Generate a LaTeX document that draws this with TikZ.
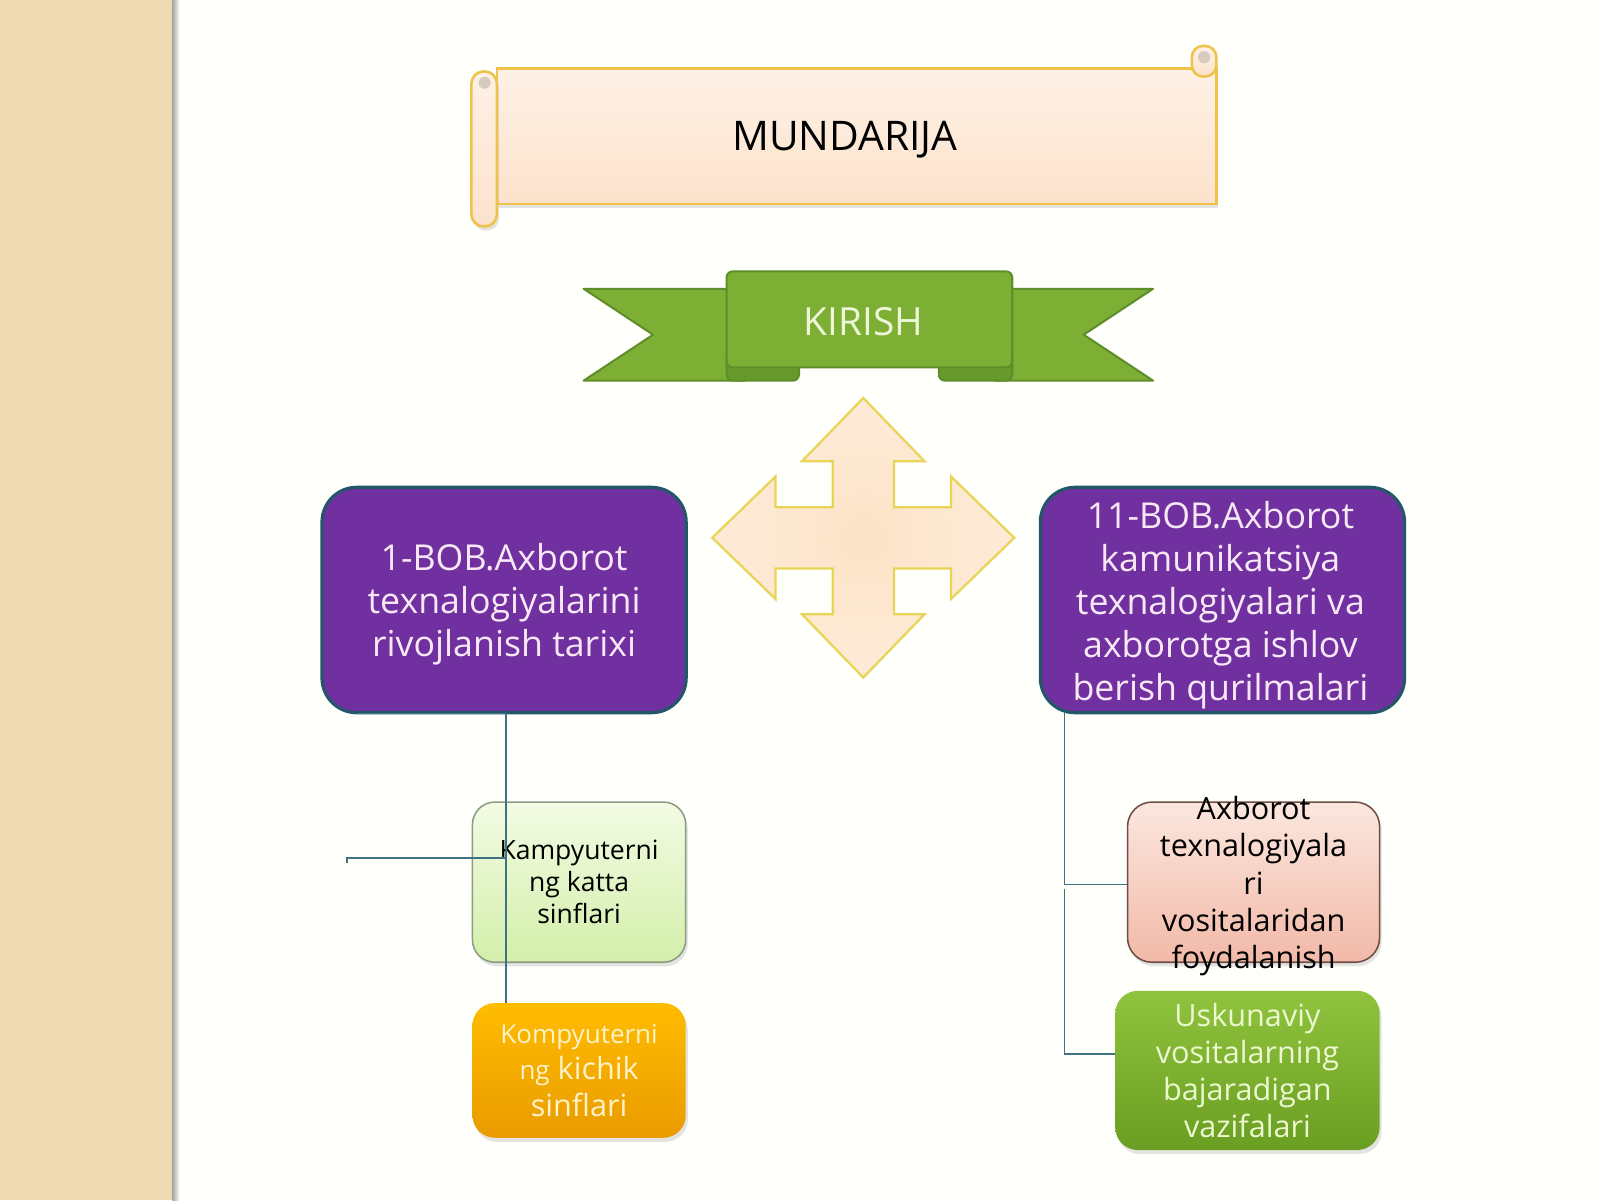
\documentclass[tikz,border=0pt]{standalone}
\usepackage{fontspec}
\setmainfont{Open Sans}
\usetikzlibrary{shadows,calc}
\definecolor{bgwhite}{HTML}{FFFFFC}
\definecolor{stripc}{HTML}{EEDAB1}
\definecolor{gold}{HTML}{EFC24A}
\definecolor{scrolltop}{HTML}{FEF1E6}
\definecolor{scrollbot}{HTML}{FCE2CC}
\definecolor{curl}{HTML}{D8CBBE}
\definecolor{rgreen}{HTML}{7DAF35}
\definecolor{rborder}{HTML}{5E8E2A}
\definecolor{rfold}{HTML}{68992B}
\definecolor{ktext}{HTML}{EEF8D8}
\definecolor{pfill}{HTML}{7030A0}
\definecolor{pborder}{HTML}{215868}
\definecolor{ptext}{HTML}{F8E8F6}
\definecolor{arrowin}{HTML}{FCE3C6}
\definecolor{arrowout}{HTML}{FDEBD8}
\definecolor{arrowline}{HTML}{E8D455}
\definecolor{conncol}{HTML}{3F7282}
\definecolor{lgtop}{HTML}{F3FBE4}
\definecolor{lgbot}{HTML}{D3EFAA}
\definecolor{lgline}{HTML}{8C9C84}
\definecolor{ortop}{HTML}{FFBC00}
\definecolor{orbot}{HTML}{E99B00}
\definecolor{ortext}{HTML}{FFF2C8}
\definecolor{pktop}{HTML}{FBE7DF}
\definecolor{pkbot}{HTML}{F2B9A8}
\definecolor{pkline}{HTML}{6E4E44}
\definecolor{grtop}{HTML}{90C33D}
\definecolor{grbot}{HTML}{6A9E22}
\definecolor{grtext}{HTML}{ECF8CF}
\tikzset{
  softshadow/.style={drop shadow={opacity=0.22, shadow xshift=2pt, shadow yshift=-4pt}},
  scrollpart/.style={top color=scrolltop, bottom color=scrollbot, draw=gold, line width=2.5pt},
  tailpart/.style={fill=rgreen, draw=rborder, line width=2pt, line join=round},
  foldpart/.style={fill=rfold, draw=rborder, line width=2pt, rounded corners=6pt},
  purplebox/.style={rectangle, rounded corners=34pt, fill=pfill, draw=pborder, line width=3pt,
    minimum width=357pt, minimum height=221pt},
  purpletext/.style={text=ptext, align=center, font=\fontsize{35}{42}\selectfont},
  smallbox/.style={rectangle, align=center, softshadow},
  conn/.style={draw=conncol, line width=1.5pt},
}
\begin{document}
\begin{tikzpicture}[x=1pt,y=-1pt]
\useasboundingbox (0,0) rectangle (1568,1176);
\fill[bgwhite] (0,0) rectangle (1568,1176);
\fill[stripc] (0,0) rectangle (170,1176);
\shade[left color=black!35, right color=bgwhite] (169,0) rectangle (176,1176);

% scroll
\path[scrollpart, softshadow] (487,67) rectangle (1192,200);
\path[scrollpart, rounded corners=11pt] (1168,45) rectangle (1192,75);
\fill[curl] (1180,56) circle (6);
\path[scrollpart, rounded corners=12pt, softshadow] (462,70) rectangle (487,222);
\fill[curl] (475,81) circle (6);
\node (mund) at (828,137) {\fontsize{40}{46}\selectfont MUNDARIJA};

% ribbon
\path[tailpart] (572,283) -- (730,283) -- (730,373) -- (572,373) -- (640,328) -- cycle;
\path[tailpart] (1130,283) -- (975,283) -- (975,373) -- (1130,373) -- (1062,328) -- cycle;
\path[foldpart] (712,345) rectangle (783,373);
\path[foldpart] (920,345) rectangle (992,373);
\node[rectangle, rounded corners=6pt, fill=rgreen, draw=rborder, line width=2pt,
  minimum width=280pt, minimum height=94pt] (kirishbox) at (852,313) {};
\node[text=ktext, font=\fontsize{38}{44}\selectfont] (kirish) at (846,315) {KIRISH};

% quad arrow
\path[inner color=arrowin, outer color=arrowout, draw=arrowline, line width=2.2pt, line join=miter]
  (846,527) ++(0,-137) -- ++(60,62) -- ++(-30,0) -- ++(0,45) -- ++(56,0) -- ++(0,-30)
  -- ++(62,60) -- ++(-62,60) -- ++(0,-30) -- ++(-56,0) -- ++(0,45) -- ++(30,0)
  -- ++(-60,62) -- ++(-60,-62) -- ++(30,0) -- ++(0,-45) -- ++(-56,0) -- ++(0,30)
  -- ++(-62,-60) -- ++(62,-60) -- ++(0,30) -- ++(56,0) -- ++(0,-45) -- ++(-30,0) -- cycle;

% chapter boxes
\node[purplebox] (lp) at (494,588) {};
\node[purpletext] (lptext) at ([yshift=-4pt]lp.center) {1-BOB.Axborot\\texnalogiyalarini\\rivojlanish tarixi};
\node[purplebox] (rp) at (1198,588) {};
\node[purpletext] (rptext) at ([xshift=-2pt,yshift=-5pt]rp.center) {11-BOB.Axborot\\kamunikatsiya\\texnalogiyalari va\\axborotga ishlov\\berish qurilmalari};

% sub boxes
\node[smallbox, rounded corners=22pt, top color=lgtop, bottom color=lgbot, draw=lgline, line width=1.5pt,
  minimum width=209pt, minimum height=157pt, font=\fontsize{26}{31.5}\selectfont] (kg) at (567.5,864.5)
  {Kampyuterni\\ng katta\\sinflari};
\node[smallbox, rounded corners=22pt, top color=ortop, bottom color=orbot,
  minimum width=209pt, minimum height=132pt, text=ortext, font=\fontsize{30}{36}\selectfont] (ob) at (567.5,1049)
  {{\fontsize{25.5}{36}\selectfont Kompyuterni}\\{\fontsize{25.5}{36}\selectfont ng} kichik\\sinflari};
\node[smallbox, rounded corners=24pt, top color=pktop, bottom color=pkbot, draw=pkline, line width=1.5pt,
  minimum width=247pt, minimum height=157pt] (pk) at (1228.5,864.5) {};
\node[align=center, font=\fontsize{30}{36.5}\selectfont] (pktext) at ([yshift=-4pt]pk.center)
  {Axborot\\texnalogiyala\\ri\\vositalaridan\\foydalanish};
\node[smallbox, rounded corners=22pt, top color=grtop, bottom color=grbot,
  minimum width=259pt, minimum height=156pt, text=grtext, font=\fontsize{30}{36.5}\selectfont] (gb) at (1222.5,1049)
  {Uskunaviy\\vositalarning\\bajaradigan\\vazifalari};

% connectors
\coordinate (lj) at ([xshift=2pt,yshift=1pt]lp.south);
\coordinate (lfree) at (340,841);
\draw[conn] ([xshift=-146pt]lj) -- (lj);
\draw[conn] (lj) -- (lj |- ob.north);
\draw[conn] ([yshift=-5pt]lfree) -- (lfree) -- (lj |- lfree);
\coordinate (rj) at ([xshift=25pt,yshift=1pt]rp.south west);
\coordinate (pkj) at ([yshift=-2.5pt]pk.west);
\coordinate (gbj) at ([yshift=16pt]gb.west);
\draw[conn] (rj) -- (rj |- pkj) -- (pkj);
\draw[conn] ([yshift=-4pt]rj |- pkj) -- (rj |- gbj) -- (gbj);
\end{tikzpicture}
\end{document}
